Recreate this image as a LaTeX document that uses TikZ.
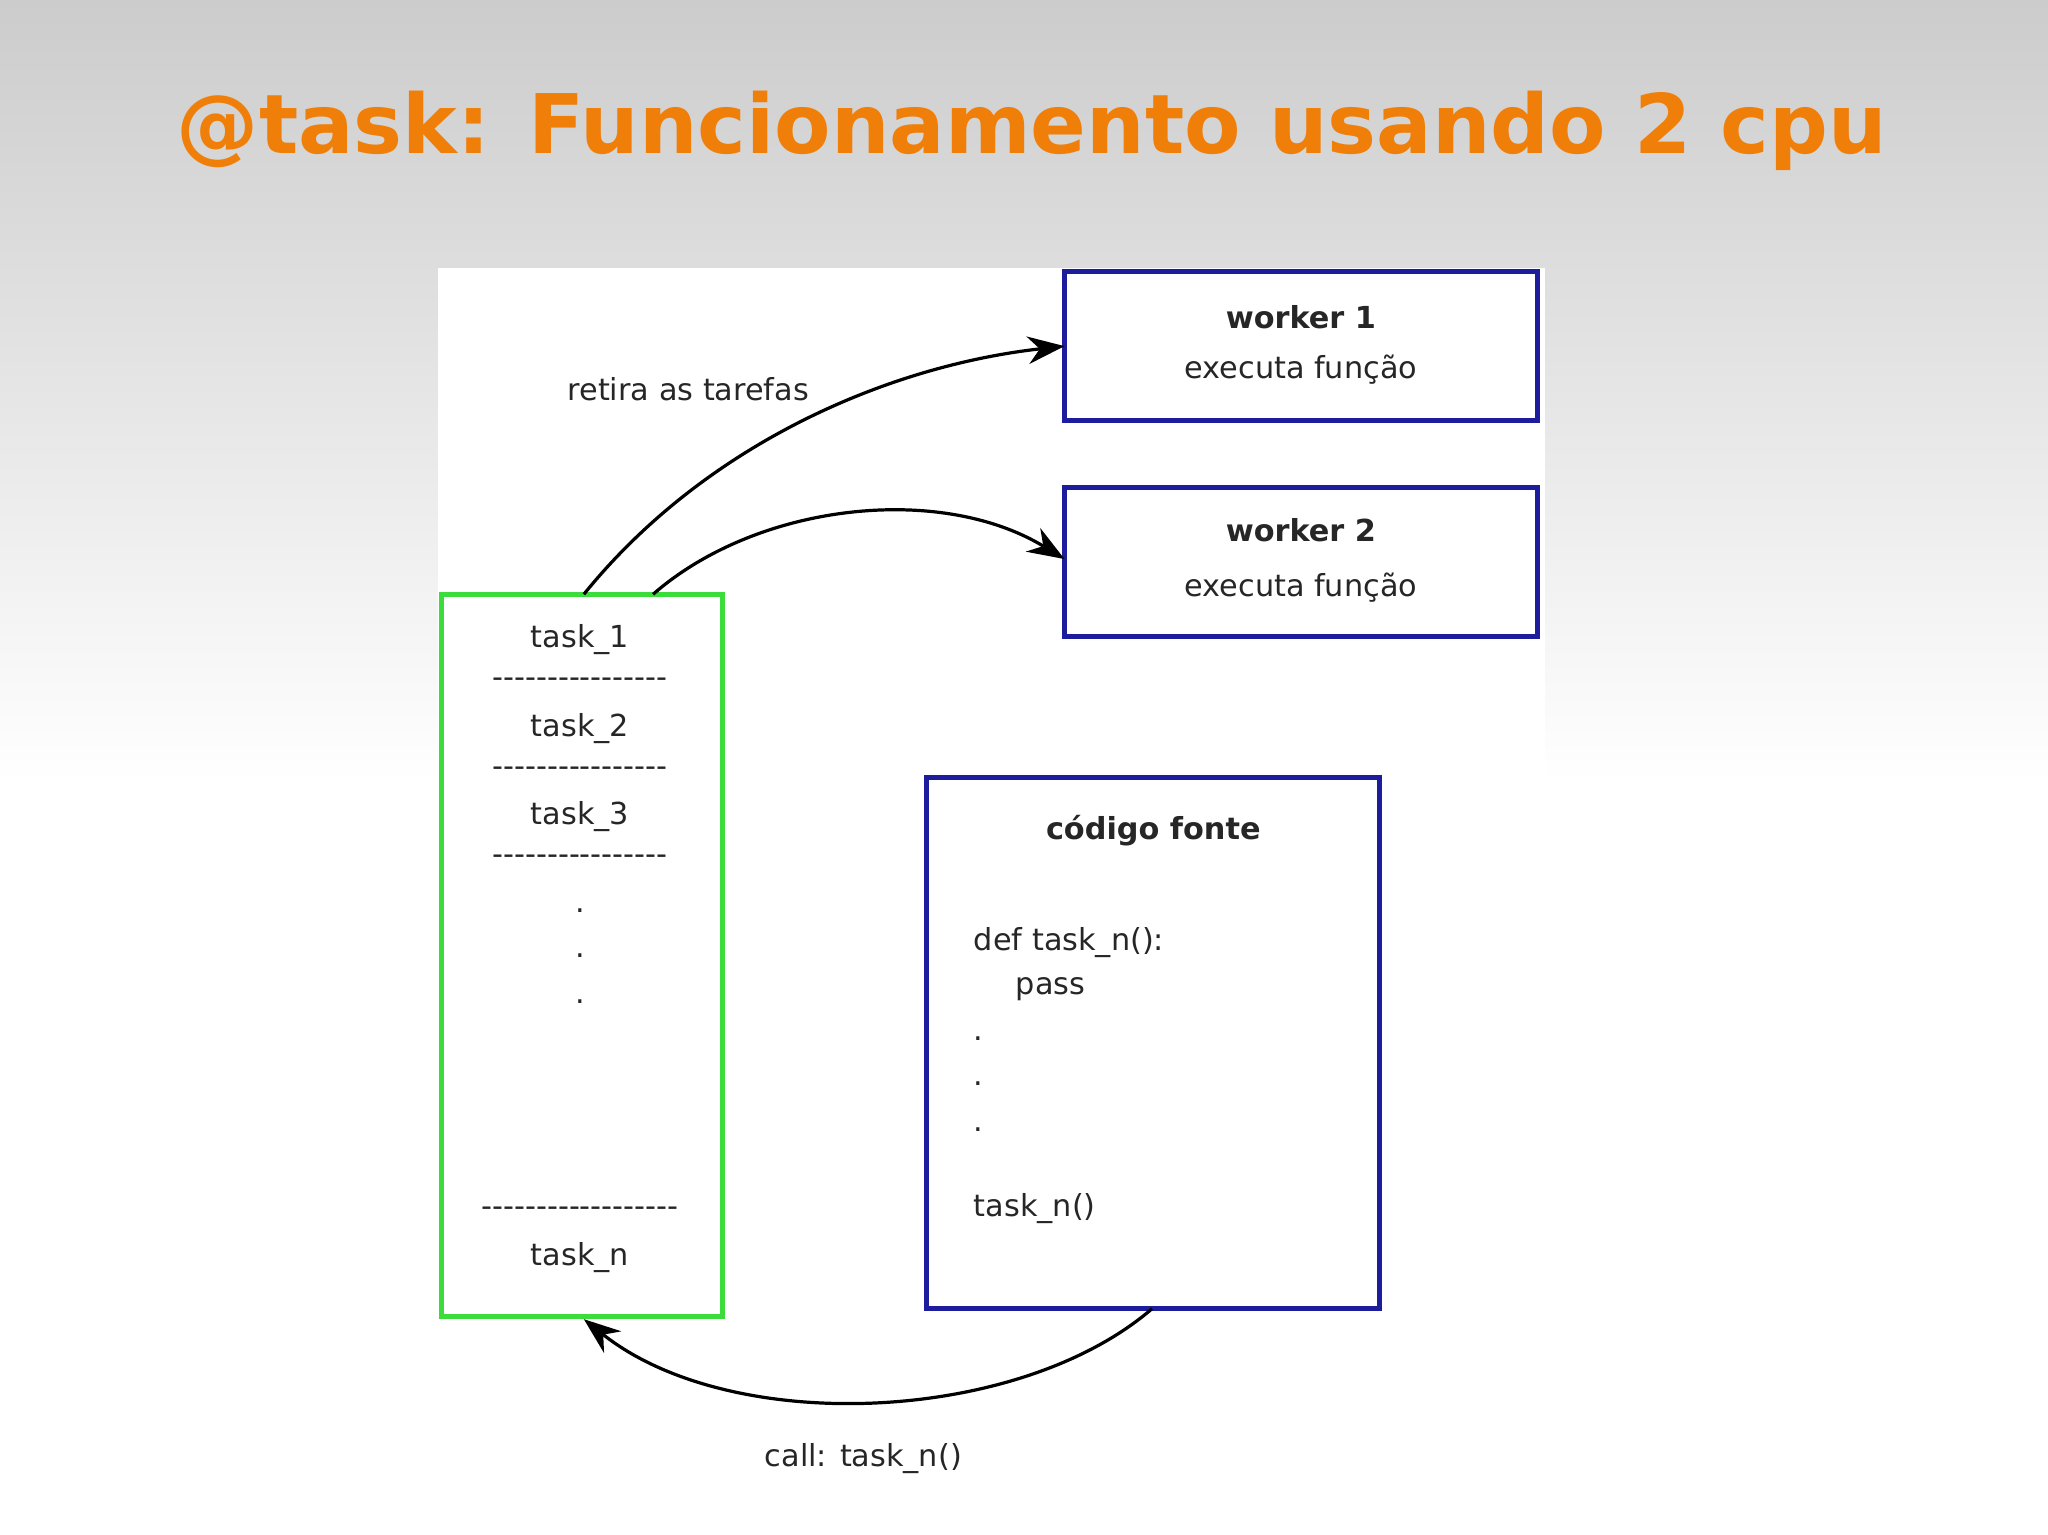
\documentclass[tikz,border=0pt]{standalone}
\usepackage{fontspec}
\setmainfont{DejaVu Sans}
\usetikzlibrary{arrows.meta}
\definecolor{ttl}{HTML}{F07F0A}
\definecolor{bl}{HTML}{1C1C9C}
\definecolor{gr}{HTML}{3CDC3C}
\begin{document}
\begin{tikzpicture}[x=0.01cm,y=-0.01cm,
  box/.style={draw=bl,line width=1.1pt},
  txt/.style={font=\fontsize{6.6}{8}\selectfont,text=black!85,inner sep=0},
  btxt/.style={txt,font=\fontsize{6.6}{8}\selectfont\bfseries},
  arr/.style={-{Stealth[length=8pt,width=6pt]},line width=0.7pt}]
\useasboundingbox (0,0) rectangle (1568,1175);
\shade[top color=black!20,bottom color=white] (0,0) rectangle (1568,600);
\fill[white] (335,205) rectangle (1183,1150);
\node[font=\fontsize{17.9}{20}\selectfont\bfseries,text=ttl] (title) at (790,100) {@task: Funcionamento usando 2 cpu};
% boxes
\draw[box] (815,208) rectangle (1177,322);
\node[btxt] (w1a) at (996,243) {worker 1};
\node[txt] (w1b) at (996,283) {executa função};
\draw[box] (815,373) rectangle (1177,487);
\node[btxt] (w2a) at (996,406) {worker 2};
\node[txt] (w2b) at (996,450) {executa função};
\draw[draw=gr,line width=1.1pt] (338,455) rectangle (553,1008);
\draw[box] (709,595) rectangle (1056,1002);
\coordinate (q1) at (447,455);
\coordinate (q2) at (500,455);
\coordinate (w1in) at (815,265);
\coordinate (w2in) at (815,428);
\coordinate (cb) at (882,1002);
\coordinate (qb) at (447,1010);
% queue texts
\foreach \t/\y in {task\_1/490,task\_2/558,task\_3/625,task\_n/963}
  \node[txt] at (444,\y) {\t};
\foreach \y in {523,591,658}
  \node[txt] at (444,\y) {-{}-{}-{}-{}-{}-{}-{}-{}-{}-{}-{}-{}-{}-{}-{}-};
\node[txt] at (444,928) {-{}-{}-{}-{}-{}-{}-{}-{}-{}-{}-{}-{}-{}-{}-{}-{}-{}-};
\foreach \y in {697,732,767} \node[txt] at (444,\y) {.};
% code
\node[btxt] (cf) at (883,636) {código fonte};
\node[txt,anchor=west] at (745,722) {def task\_n():};
\node[txt,anchor=west] at (777,757) {pass};
\foreach \y in {795,830,865} \node[txt,anchor=west] at (745,\y) {.};
\node[txt,anchor=west] at (745,925) {task\_n()};
% arrows
\draw[arr] (q1) .. controls (540,340) and (680,280) .. (w1in);
\draw[arr] (q2) .. controls (580,385) and (720,370) .. (w2in);
\draw[arr] (cb) .. controls (780,1090) and (560,1100) .. (qb);
\node[txt] (l1) at (527,298) {retira as tarefas};
\node[txt] (l2) at (661,1117) {call: task\_n()};
\end{tikzpicture}
\end{document}
